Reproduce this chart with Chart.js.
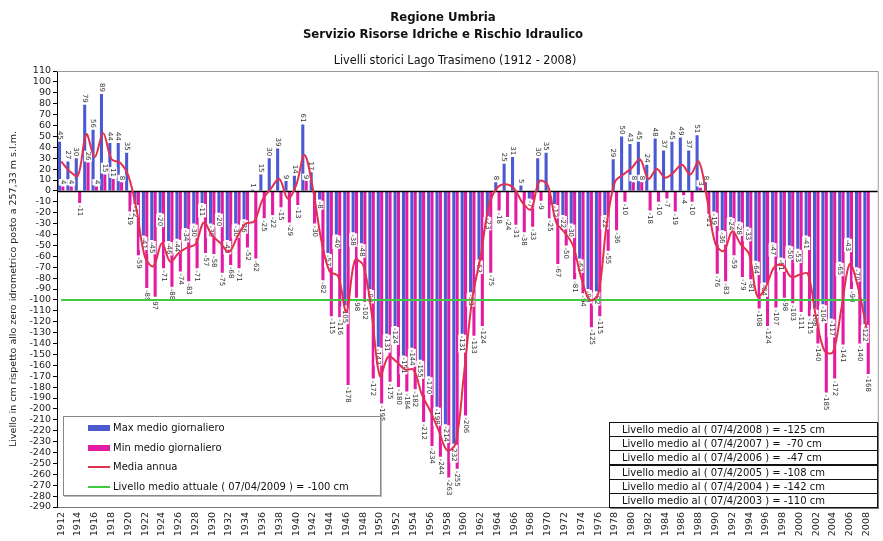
<!DOCTYPE html>
<html>
<head>
<meta charset="utf-8">
<title>Livelli storici Lago Trasimeno</title>
<script src="https://cdn.jsdelivr.net/npm/chart.js@4"></script>
<style>
  body { margin: 0; background: #fff; }
  #wrap { position: relative; width: 883px; height: 541px; font-family: "DejaVu Sans", Verdana, sans-serif; color: #111; }
  #chart { position: absolute; left: 0; top: 0; }
  .head { position: absolute; left: 0; width: 886px; text-align: center; font-family: "Liberation Sans Narrow", "DejaVu Sans Condensed", sans-serif; font-weight: bold; font-size: 13px; }
  #sub { position: absolute; left: 0; width: 910px; top: 52px; text-align: center; font-size: 12.5px; font-family: "DejaVu Sans Condensed", "DejaVu Sans", sans-serif; }
  #legend { position: absolute; left: 63px; top: 416px; width: 316px; height: 78px; border: 1px solid #888; box-shadow: 1px 1px 0 #bbb; background: #fff; }
  .li { position: absolute; left: 24px; font-size: 10px; line-height: 12px; white-space: nowrap; }
  .li i { display: inline-block; width: 22px; vertical-align: middle; margin-right: 3px; }
  #levels { position: absolute; left: 609px; top: 422px; }
  .row { position: absolute; left: 0; width: 255px; height: 13px; border: 1px solid #111; box-shadow: 1px 1px 0 #777; background: #fff; font-size: 10px; line-height: 13px; padding-left: 12px; box-sizing: content-box; white-space: pre; }
</style>
</head>
<body>
<div id="wrap">
  <canvas id="chart" width="883" height="541"></canvas>
  <div class="head" style="top:9px">Regione Umbria</div>
  <div class="head" style="top:26px">Servizio Risorse Idriche e Rischio Idraulico</div>
  <div id="sub">Livelli storici Lago Trasimeno (1912 - 2008)</div>
  <div id="legend"></div>
  <div id="levels"></div>
</div>
<script>
// anni 1912 - 2008
const years = [
  1912, 1913, 1914, 1915, 1916, 1917, 1918, 1919, 1920, 1921,
  1922, 1923, 1924, 1925, 1926, 1927, 1928, 1929, 1930, 1931,
  1932, 1933, 1934, 1935, 1936, 1937, 1938, 1939, 1940, 1941,
  1942, 1943, 1944, 1945, 1946, 1947, 1948, 1949, 1950, 1951,
  1952, 1953, 1954, 1955, 1956, 1957, 1958, 1959, 1960, 1961,
  1962, 1963, 1964, 1965, 1966, 1967, 1968, 1969, 1970, 1971,
  1972, 1973, 1974, 1975, 1976, 1977, 1978, 1979, 1980, 1981,
  1982, 1983, 1984, 1985, 1986, 1987, 1988, 1989, 1990, 1991,
  1992, 1993, 1994, 1995, 1996, 1997, 1998, 1999, 2000, 2001,
  2002, 2003, 2004, 2005, 2006, 2007, 2008
];

// max medio giornaliero (cm)
const maxVals = [
  45, 27, 30, 79, 56, 89, 44, 44, 35, -12,
  -41, -45, -20, -46, -44, -34, -30, -11, -30, -20,
  -45, -30, -26, 1, 15, 30, 39, 9, 14, 61,
  17, -8, -57, -40, -105, -38, -48, -90, -143, -131,
  -124, -151, -144, -155, -170, -198, -214, -232, -131, -93,
  -63, -23, 8, 25, 31, 5, -7, 30, 35, -12,
  -22, -30, -62, -90, -92, -22, 29, 50, 43, 45,
  24, 48, 37, 45, 49, 37, 51, 8, -19, -36,
  -24, -28, -33, -64, -84, -47, -61, -50, -53, -41,
  -108, -104, -117, -65, -43, -70, -122
];

// min medio giornaliero (cm)
const minVals = [
  4, 4, -11, 26, 4, 15, 11, 8, -19, -59,
  -89, -97, -71, -88, -74, -83, -71, -57, -58, -75,
  -68, -71, -52, -62, -25, -22, -15, -29, -13, 9,
  -30, -82, -115, -116, -178, -98, -102, -172, -195, -175,
  -180, -184, -182, -212, -234, -244, -263, -255, -206, -133,
  -124, -75, -18, -24, -31, -38, -33, -9, -25, -67,
  -50, -81, -94, -125, -115, -55, -36, -10, 8, 8,
  -18, -10, -7, -19, -4, -10, 3, -21, -76, -83,
  -59, -79, -81, -108, -124, -107, -98, -103, -111, -115,
  -140, -185, -172, -141, -90, -140, -168
];

// media annua (cm)
const meanVals = [
  27, 18, 14, 52, 31, 53, 29, 26, 14, -18,
  -61, -69, -48, -65, -57, -52, -49, -29, -41, -48,
  -56, -42, -30, -28, -8, 2, 11, -7, 5, 33,
  2, -45, -74, -78, -111, -64, -68, -112, -170, -152,
  -157, -164, -164, -187, -202, -220, -238, -232, -169, -99,
  -60, -13, 3, 6, 2, -11, -17, 9, 5, -29,
  -38, -50, -80, -100, -95, -32, 8, 15, 21, 29,
  11, 20, 12, 17, 24, 15, 27, -8, -49, -55,
  -37, -49, -58, -97, -88, -70, -68, -79, -77, -76,
  -117, -147, -148, -108, -67, -89, -126
];

// livello medio attuale al 07/04/2009
const currentLevel = -100;

// livelli medi al 7 aprile degli anni recenti
const aprilDates = ['07/4/2008', '07/4/2007', '07/4/2006', '07/4/2005', '07/4/2004', '07/4/2003'];
const aprilLevels = [-125, -70, -47, -108, -142, -110];

const BLUE = '#4c5ad2';
const MAGENTA = '#e31ba3';
const RED = '#e2304f';
const GREEN = '#3fca3f';
const FONT = '"DejaVu Sans", Verdana, sans-serif';

Chart.defaults.font.family = FONT;

// legenda
const legendItems = [
  { text: 'Max medio giornaliero', color: BLUE, h: 6 },
  { text: 'Min medio giornaliero', color: MAGENTA, h: 6 },
  { text: 'Media annua', color: RED, h: 2 },
  { text: 'Livello medio attuale ( 07/04/2009 ) = ' + currentLevel + ' cm', color: GREEN, h: 2 }
];
const legend = document.getElementById('legend');
legendItems.forEach((it, i) => {
  const d = document.createElement('div');
  d.className = 'li';
  d.style.top = (5 + i * 19.5) + 'px';
  d.innerHTML = `<i style="height:${it.h}px;background:${it.color}"></i>${it.text}`;
  legend.appendChild(d);
});

// tabella livelli di aprile
const levels = document.getElementById('levels');
aprilDates.forEach((dt, i) => {
  const r = document.createElement('div');
  r.className = 'row';
  r.style.top = (i * 14.2) + 'px';
  const v = String(aprilLevels[i]).padStart(4, ' ');
  r.textContent = `Livello medio al ( ${dt} ) = ${v} cm`;
  levels.appendChild(r);
});

// valori sulle barre (ruotati) e linea dello zero
const extras = {
  id: 'extras',
  afterDatasetDraw(chart, args) {
    if (args.index !== 0) return;
    const ctx = chart.ctx;
    const yScale = chart.scales.y;
    const area = chart.chartArea;

    const y0 = Math.round(yScale.getPixelForValue(0)) + 0.5;
    ctx.save();
    ctx.strokeStyle = '#000';
    ctx.lineWidth = 1.5;
    ctx.beginPath();
    ctx.moveTo(area.left, y0);
    ctx.lineTo(area.right + 7, y0);
    ctx.stroke();

    ctx.font = '7px ' + FONT;
    ctx.textBaseline = 'middle';
    [0, 1].forEach(di => {
      const vals = chart.data.datasets[di].data;
      const others = chart.data.datasets[1 - di].data;
      chart.getDatasetMeta(di).data.forEach((bar, j) => {
        const v = vals[j];
        const txt = String(v);
        const w = ctx.measureText(txt).width;
        const neg = v < 0;
        const top = neg ? bar.y + 2 : bar.y - 2 - w;
        const covered = di === 0 ? (neg && others[j] < v) : (!neg && others[j] > v);
        ctx.save();
        ctx.translate(bar.x, top);
        ctx.rotate(Math.PI / 2);
        if (covered) {
          ctx.fillStyle = '#fff';
          ctx.fillRect(-1, -4, w + 2, 8);
        }
        ctx.fillStyle = '#333';
        ctx.fillText(txt, 0, 0);
        ctx.restore();
      });
    });
    ctx.restore();
  },
  afterDraw(chart) {
    // cornice
    const ctx = chart.ctx;
    const a = chart.chartArea;
    ctx.save();
    ctx.strokeStyle = '#999';
    ctx.lineWidth = 1;
    ctx.beginPath();
    ctx.moveTo(a.left, a.top + 0.5);
    ctx.lineTo(a.right + 7.5, a.top + 0.5);
    ctx.lineTo(a.right + 7.5, a.bottom - 2);
    ctx.stroke();
    ctx.restore();
  }
};

new Chart(document.getElementById('chart'), {
  data: {
    labels: years,
    datasets: [
      {
        type: 'bar',
        label: 'Max medio giornaliero',
        data: maxVals,
        backgroundColor: BLUE,
        categoryPercentage: 0.8,
        barPercentage: 0.92,
        order: 2
      },
      {
        type: 'bar',
        label: 'Min medio giornaliero',
        data: minVals,
        backgroundColor: MAGENTA,
        categoryPercentage: 0.8,
        barPercentage: 0.92,
        order: 2
      },
      {
        type: 'line',
        label: 'Media annua',
        data: meanVals,
        borderColor: RED,
        borderWidth: 2,
        pointRadius: 0,
        tension: 0.35,
        order: 0
      },
      {
        type: 'line',
        label: 'Livello medio attuale',
        data: years.map(() => currentLevel),
        borderColor: GREEN,
        borderWidth: 2,
        pointRadius: 0,
        order: 1
      }
    ]
  },
  options: {
    responsive: false,
    animation: false,
    layout: { padding: { left: 0, right: 8, top: 71, bottom: 0 } },
    plugins: {
      legend: { display: false },
      tooltip: { enabled: false }
    },
    scales: {
      x: {
        grid: { display: false, tickLength: 0 },
        border: { color: '#777' },
        ticks: {
          autoSkip: false,
          maxRotation: 90,
          minRotation: 90,
          padding: 5,
          color: '#222',
          font: { size: 9.5 },
          callback(v, i) { return i % 2 === 0 ? this.getLabelForValue(v) : ''; }
        },
        afterFit(s) { s.height = 34; }
      },
      y: {
        min: -290,
        max: 110,
        ticks: { stepSize: 10, autoSkip: false, color: '#222', font: { size: 9.5 }, padding: 2 },
        grid: { drawOnChartArea: false, tickLength: 4, color: '#000' },
        border: { color: '#000' },
        title: {
          display: true,
          text: 'Livello in cm rispetto allo zero idrometrico posto a 257,33 m s.l.m.',
          color: '#222',
          font: { size: 9.5 },
          padding: { top: 8, bottom: 0 }
        },
        afterFit(s) { s.width = 57; }
      }
    }
  },
  plugins: [extras]
});
</script>
</body>
</html>
